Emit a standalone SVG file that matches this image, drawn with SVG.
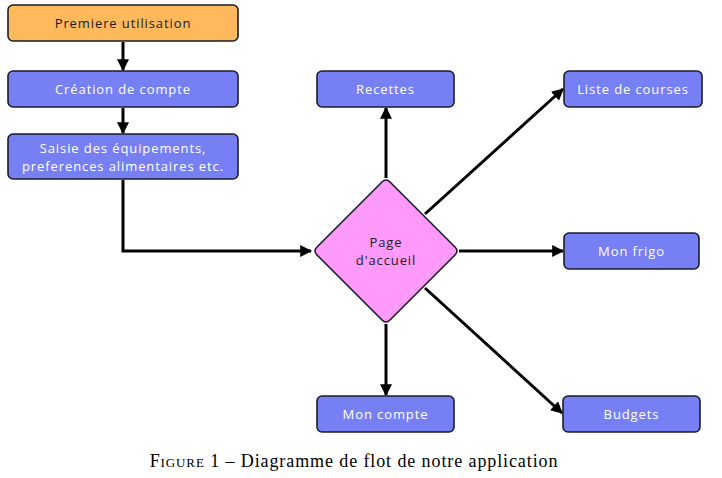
<svg xmlns="http://www.w3.org/2000/svg" width="722" height="478" viewBox="0 0 722 478">
<style>
.box{stroke:#1c1c28;stroke-width:1.6}
.blue{fill:#777ff5}
.orange{fill:#fdb95b}
.pink{fill:#ff99fc}
.t{font-family:"Open Sans","Liberation Sans",sans-serif;font-size:13px;font-weight:500;letter-spacing:0.9px;text-anchor:middle;dominant-baseline:central}
.w{fill:#ffffff}
.d{fill:#1c1c28}
.c{fill:none;stroke:#000;stroke-width:3}
.cap{font-family:"Liberation Serif","DejaVu Serif",serif;font-size:18px;letter-spacing:0.9px;fill:#000;text-anchor:middle}
</style>
<defs>
<marker id="ah" viewBox="0 0 10 10" refX="9" refY="5" markerWidth="4" markerHeight="4" orient="auto" markerUnits="strokeWidth">
<path d="M0,0 L10,5 L0,10 z" fill="#000"/>
</marker>
</defs>
<rect width="722" height="478" fill="#ffffff"/>
<g id="connectors">
<line class="c" x1="123" y1="42" x2="123" y2="70" marker-end="url(#ah)"/>
<line class="c" x1="123" y1="108" x2="123" y2="133" marker-end="url(#ah)"/>
<polyline class="c" points="123,180 123,251 311,251" marker-end="url(#ah)"/>
<line class="c" x1="386" y1="178" x2="386" y2="108" marker-end="url(#ah)"/>
<line class="c" x1="425" y1="214" x2="563" y2="89" marker-end="url(#ah)"/>
<line class="c" x1="459" y1="251" x2="563" y2="251" marker-end="url(#ah)"/>
<line class="c" x1="425" y1="288" x2="562" y2="413" marker-end="url(#ah)"/>
<line class="c" x1="386" y1="324" x2="386" y2="395" marker-end="url(#ah)"/>
</g>
<g id="n-premiere">
<rect class="box orange" x="8" y="5" width="230" height="36" rx="5"/>
<text class="t d" x="123" y="23">Premiere utilisation</text>
</g>
<g id="n-creation">
<rect class="box blue" x="8" y="71" width="230" height="36" rx="5"/>
<text class="t w" x="123" y="89">Création de compte</text>
</g>
<g id="n-saisie">
<rect class="box blue" x="8" y="134" width="230" height="45" rx="5"/>
<text class="t w" x="123" y="147.5">Saisie des équipements,</text>
<text class="t w" x="123" y="165.5">preferences alimentaires etc.</text>
</g>
<g id="n-accueil">
<path class="box pink" d="M382,182 Q386,178 390,182 L455,247 Q459,251 455,255 L390,320 Q386,324 382,320 L317,255 Q313,251 317,247 Z"/>
<text class="t d" x="386" y="242">Page</text>
<text class="t d" x="386" y="260">d'accueil</text>
</g>
<g id="n-recettes">
<rect class="box blue" x="317" y="71" width="137" height="36" rx="5"/>
<text class="t w" x="385.5" y="89">Recettes</text>
</g>
<g id="n-liste">
<rect class="box blue" x="564" y="71" width="138" height="36" rx="5"/>
<text class="t w" x="633" y="89">Liste de courses</text>
</g>
<g id="n-frigo">
<rect class="box blue" x="564" y="233" width="135" height="36" rx="5"/>
<text class="t w" x="631.5" y="251">Mon frigo</text>
</g>
<g id="n-compte">
<rect class="box blue" x="317" y="396" width="137" height="36" rx="5"/>
<text class="t w" x="385.5" y="414">Mon compte</text>
</g>
<g id="n-budgets">
<rect class="box blue" x="563" y="396" width="137" height="36" rx="5"/>
<text class="t w" x="631.5" y="414">Budgets</text>
</g>
<text class="cap" x="354" y="467"><tspan style="font-variant:small-caps">Figure</tspan> 1 – Diagramme de flot de notre application</text>
</svg>
